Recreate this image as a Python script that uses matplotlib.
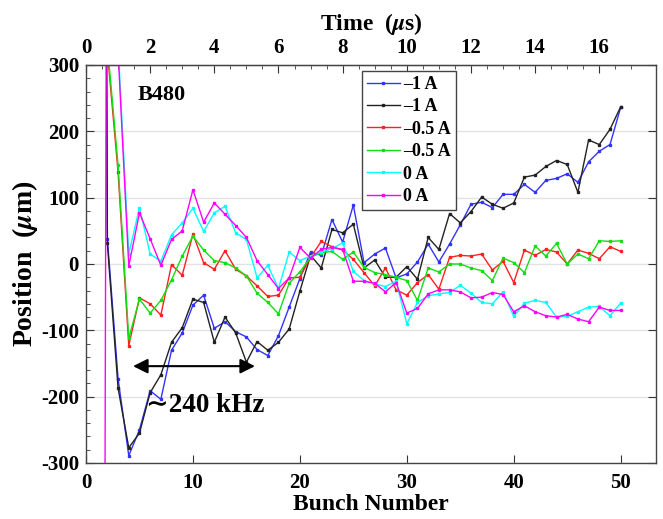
import matplotlib
matplotlib.use('Agg')
import matplotlib.pyplot as plt
import numpy as np

# Bunch numbers and measured positions (um); points far off-scale only set the steep starts
bunch = np.arange(1, 51)

pos_blue = [4000, 38, -173, -289, -250, -191, -204, -130, -104, -62,
            -47, -97, -87, -102, -110, -129, -138, -108, -65, -22,
            18, 13, 67, 33, 89, 2, 15, 24, -21, -15,
            3, 30, 3, 30, 59, 90, 93, 85, 105, 105,
            120, 108, 126, 129, 136, 123, 154, 170, 180, 236]
pos_black = [4000, 31, -187, -277, -255, -194, -167, -118, -96, -53,
             -58, -118, -80, -104, -148, -117, -130, -118, -98, -41,
             13, -6, 52, 47, 60, -6, 6, -20, -20, -4,
             -23, 40, 22, 76, 62, 79, 101, 90, 84, 92,
             131, 134, 147, 156, 150, 108, 187, 180, 203, 237]
pos_red = [2000, 320, 139, -123, -51, -60, -77, -1, -17, 45,
           2, -8, 20, -8, -18, -33, -49, -47, -21, -20,
           10, 34, 26, 21, 7, -13, -33, -6, -39, -47,
           -28, -16, -38, 10, 13, 12, 15, -9, 4, -28,
           21, 13, 22, 18, 0, 21, 16, 8, 26, 19]
pos_green = [2000, 330, 149, -112, -53, -74, -55, -24, 12, 42,
             21, 5, 2, -6, -18, -44, -58, -75, -29, -12,
             10, 17, 19, 7, 18, -5, -13, -16, -20, -25,
             -55, -6, -12, 0, 0, -6, -10, -25, 9, 2,
             -13, 27, 12, 31, 0, 15, 8, 35, 34, 35]
pos_cyan = [2000, 1500, 330, 15, 85, 15, 4, 44, 62, 84,
            49, 77, 87, 47, 37, -21, -2, -37, 18, 5,
            12, 18, 23, 32, -11, -25, -30, -34, -26, -90,
            -58, -48, -45, -43, -32, -44, -58, -60, -42, -79,
            -59, -55, -58, -80, -79, -72, -65, -64, -78, -59]
pos_magenta = [-5000, 1000, 320, -3, 77, 38, -2, 37, 50, 112,
               63, 92, 75, 58, 40, 5, -16, -37, -21, 25,
               9, 22, 25, 22, -26, -26, -29, -42, -28, -74,
               -67, -45, -39, -39, -42, -51, -50, -43, -46, -72,
               -63, -72, -78, -80, -76, -83, -87, -65, -70, -70]

series = [
    (pos_blue, '#3333ff', '\u20131 A'),
    (pos_black, '#222222', '\u20131 A'),
    (pos_red, '#ff2020', '\u20130.5 A'),
    (pos_green, '#10e010', '\u20130.5 A'),
    (pos_cyan, '#00ffff', '0 A'),
    (pos_magenta, '#ff00ff', '0 A'),
]

plt.rcParams['font.family'] = ['Liberation Serif', 'DejaVu Serif']
plt.rcParams['font.weight'] = 'bold'
plt.rcParams['axes.labelweight'] = 'bold'
plt.rcParams['mathtext.fontset'] = 'stix'
plt.rcParams['axes.unicode_minus'] = False

fig = plt.figure(figsize=(6.63, 5.19), dpi=100)
ax = fig.add_axes([0.1297, 0.1079, 0.8597, 0.7669])

for y, c, lab in series:
    ax.plot(bunch, y, color=c, lw=1.0, marker='s', ms=1.9, mec=c, mfc=c, label=lab)

ax.set_xlim(0, 53.3)
ax.set_ylim(-300, 300)
ax.set_xticks([0, 10, 20, 30, 40, 50])
ax.set_yticks([-300, -200, -100, 0, 100, 200, 300])
ax.set_yticks(np.arange(-300, 301, 20), minor=True)
ax.grid(axis='y', which='major', color='#e2e2e2', lw=1.0)
ax.set_axisbelow(True)
ax.tick_params(axis='both', which='both', direction='in', labelsize=15, colors='#333333',
               labelcolor='black')
ax.tick_params(axis='y', which='major', length=6, right=True, pad=5)
ax.tick_params(axis='y', which='minor', length=3)
ax.tick_params(axis='x', which='major', length=6, pad=7)
for s in ax.spines.values():
    s.set_color('#444444')
    s.set_linewidth(1.0)

ax.set_xlabel('Bunch Number', fontsize=17, fontweight='bold', labelpad=1)
ax.set_ylabel(r'Position  ($\mu$m)', fontsize=20, fontweight='bold', labelpad=1)

# Top axis: time in microseconds
top = ax.secondary_xaxis('top', functions=(lambda b: b / 3.0, lambda t: t * 3.0))
top.set_xticks(np.arange(0, 17, 2))
top.set_xticks(np.arange(0, 17.5, 0.5), minor=True)
top.tick_params(which='both', direction='in', labelsize=15, colors='#333333', labelcolor='black')
top.tick_params(which='major', length=6, pad=5)
top.tick_params(which='minor', length=3)
top.set_xlabel(r'Time  ($\mu$s)', fontsize=17, fontweight='bold', labelpad=6)

ax.text(4.8, 254, 'B480', fontsize=16, fontweight='bold', va='center', ha='left')
ax.annotate('', xy=(4.4, -154), xytext=(15.8, -154),
            arrowprops=dict(arrowstyle='<|-|>', color='black', lw=1.5,
                            mutation_scale=22, shrinkA=0, shrinkB=0))
ax.text(5.6, -214, '\u223c240 kHz', fontsize=19.5, fontweight='bold', va='center', ha='left')

leg = ax.legend(loc='upper left', bbox_to_anchor=(0.4837, 0.986), fontsize=13,
                frameon=True, fancybox=False, edgecolor='#444444', framealpha=1,
                handlelength=1.8, handletextpad=0.2, borderpad=0.3, labelspacing=0.3,
                borderaxespad=0)
leg.get_frame().set_linewidth(1.0)

fig.savefig('out.png', dpi=100)
